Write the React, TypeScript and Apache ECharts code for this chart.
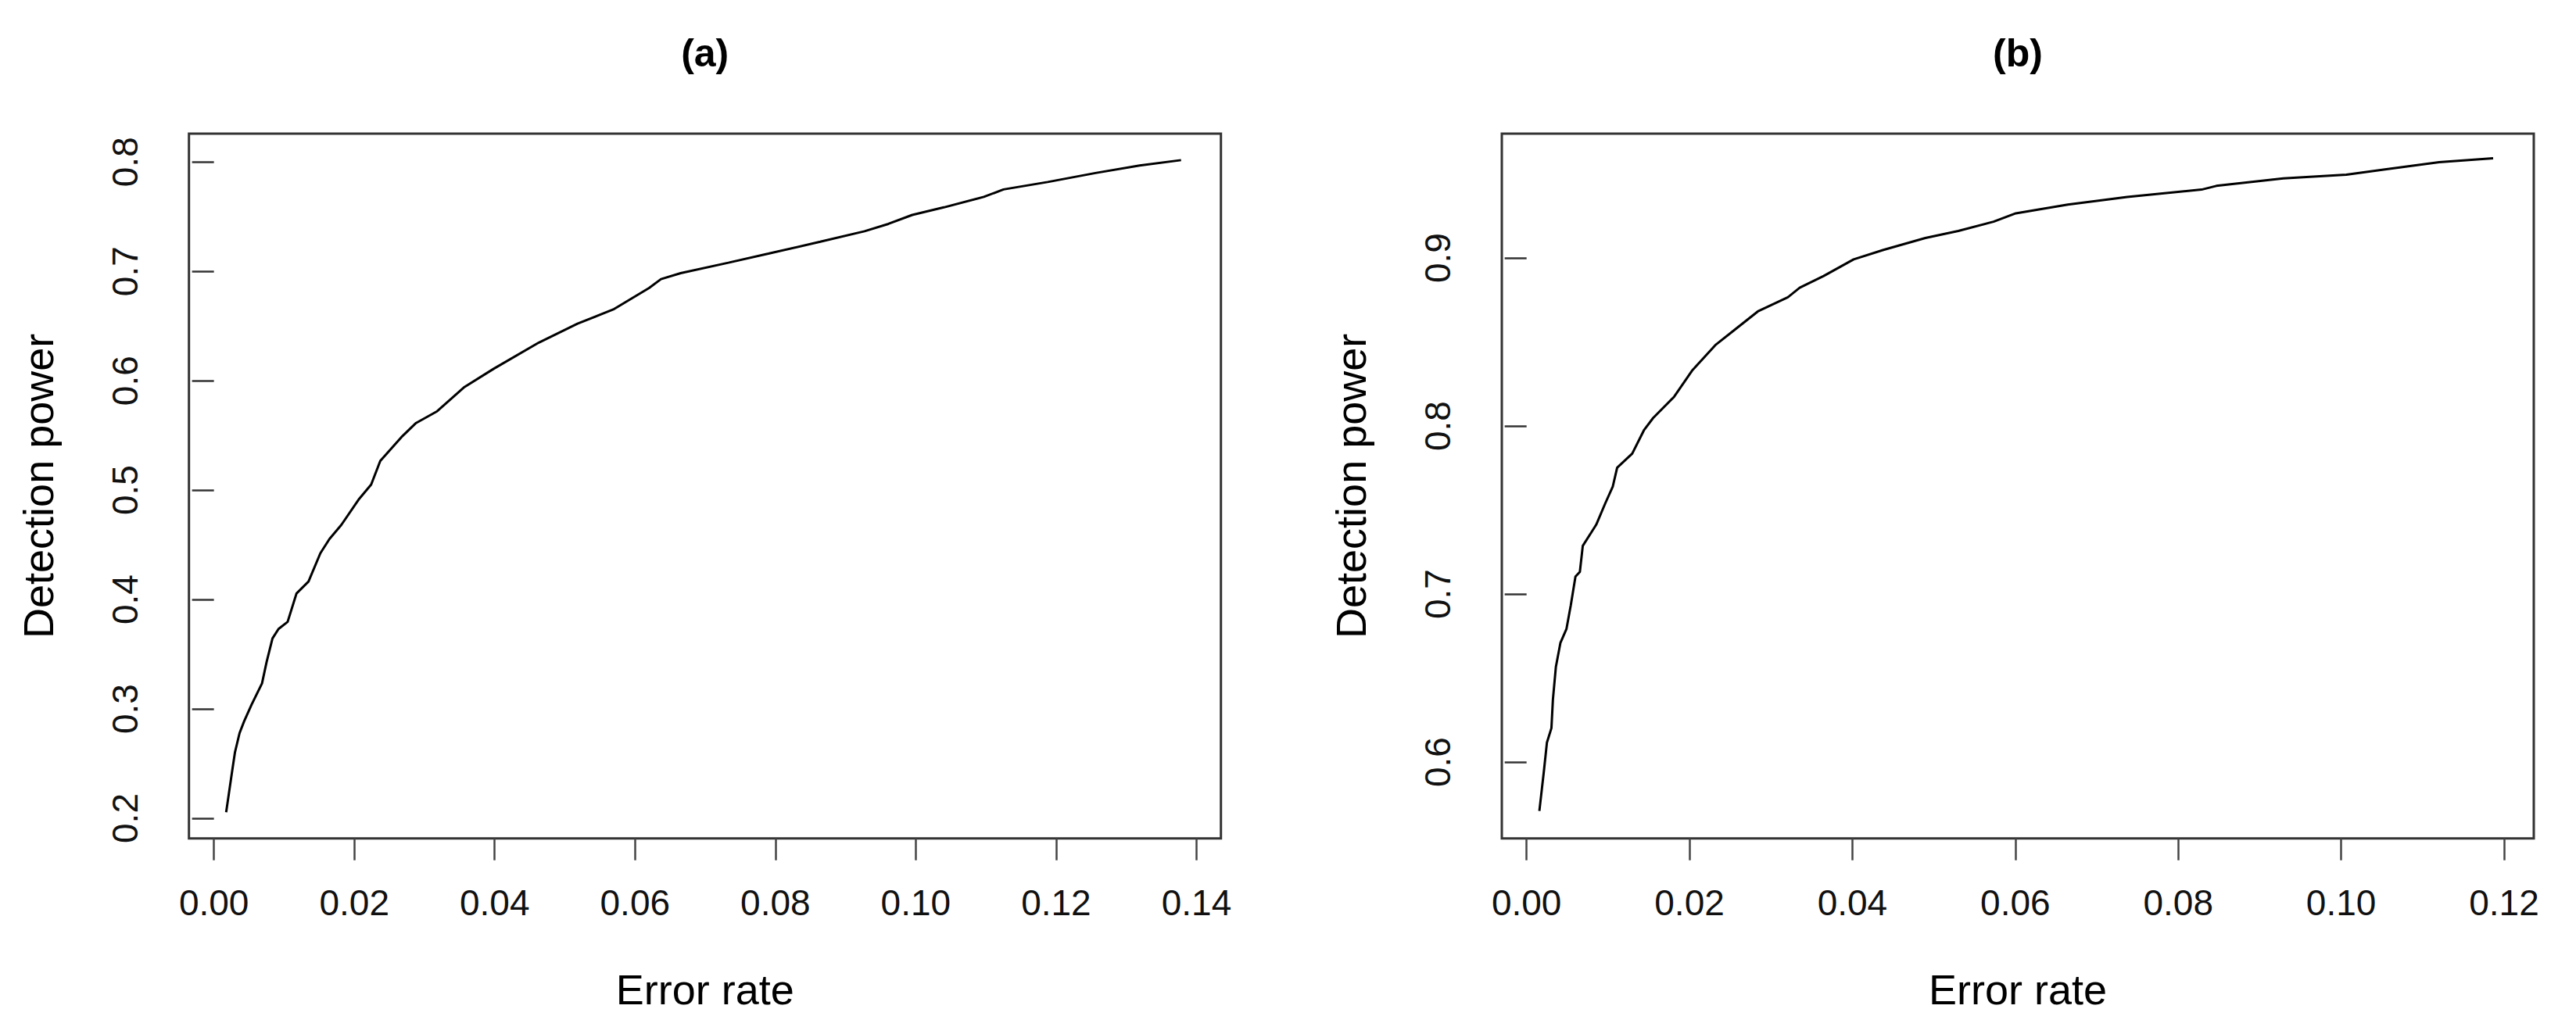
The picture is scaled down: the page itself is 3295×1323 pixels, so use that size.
import React, { useEffect, useRef } from "react";
import * as echarts from "echarts";

// Panel (a)
const errA = [0.00174, 0.0026, 0.003, 0.00365, 0.0043, 0.00536, 0.00685, 0.0075, 0.00834, 0.0092, 0.0105, 0.01176, 0.01347, 0.01517, 0.01645, 0.01816, 0.0207, 0.0224, 0.0237, 0.0267, 0.0288, 0.0318, 0.0356, 0.0399, 0.0463, 0.0518, 0.0569, 0.062, 0.0637, 0.0665, 0.0733, 0.079, 0.0864, 0.0927, 0.0961, 0.0995, 0.104, 0.1097, 0.1125, 0.1188, 0.1256, 0.1319, 0.1378];
const powA = [0.2055, 0.2434, 0.2605, 0.2779, 0.2887, 0.3039, 0.3233, 0.3428, 0.3644, 0.3731, 0.3796, 0.4055, 0.4164, 0.4424, 0.4553, 0.4683, 0.4921, 0.5051, 0.5267, 0.5484, 0.5614, 0.5721, 0.5938, 0.6111, 0.6349, 0.6522, 0.6652, 0.6848, 0.6929, 0.6984, 0.7079, 0.7162, 0.7271, 0.7367, 0.7434, 0.7516, 0.7585, 0.7681, 0.7749, 0.7817, 0.7899, 0.7968, 0.8017];

// Panel (b)
const errB = [0.00157, 0.00213, 0.0025, 0.00305, 0.00323, 0.0036, 0.00415, 0.0049, 0.00543, 0.006, 0.00654, 0.0069, 0.00855, 0.00966, 0.01058, 0.01112, 0.01297, 0.01443, 0.01554, 0.01811, 0.02031, 0.02325, 0.02545, 0.02839, 0.03207, 0.03353, 0.03647, 0.04015, 0.04381, 0.04896, 0.053, 0.05733, 0.06006, 0.06645, 0.07374, 0.08286, 0.08468, 0.0929, 0.10064, 0.10521, 0.11203, 0.11866];
const powB = [0.5709, 0.5948, 0.6117, 0.6202, 0.6371, 0.6568, 0.6709, 0.6793, 0.6934, 0.7104, 0.7132, 0.7287, 0.7413, 0.754, 0.7639, 0.7752, 0.7836, 0.7977, 0.8048, 0.8174, 0.8329, 0.8485, 0.8569, 0.8682, 0.8766, 0.8823, 0.8893, 0.8992, 0.9048, 0.9119, 0.9161, 0.9216, 0.9266, 0.9318, 0.9363, 0.9407, 0.9429, 0.9474, 0.9496, 0.9526, 0.957, 0.9593];

const xTicksA = [0, 0.02, 0.04, 0.06, 0.08, 0.1, 0.12, 0.14];
const yTicksA = [0.2, 0.3, 0.4, 0.5, 0.6, 0.7, 0.8];
const xTicksB = [0, 0.02, 0.04, 0.06, 0.08, 0.1, 0.12];
const yTicksB = [0.6, 0.7, 0.8, 0.9];

const titles = ["(a)", "(b)"];
const xName = "Error rate";
const yName = "Detection power";

const FONT = "Liberation Sans, Arial, Helvetica, sans-serif";

export default function App() {
  const ref = useRef<HTMLDivElement>(null);
  useEffect(() => {
    if (!ref.current) return;
    const chart = echarts.init(ref.current, undefined, { renderer: "svg" });
    const gridTop = 171;
    const gridH = 901.7;
    const gridW = 1320;
    const lefts = [241.7, 1921];

    const mkX = (idx: number, min: number, max: number, ticks: number[]) => ({
      type: "value",
      gridIndex: idx,
      min,
      max,
      name: xName,
      nameLocation: "middle",
      nameGap: 166,
      nameTextStyle: { fontFamily: FONT, fontSize: 54, color: "#000" },
      axisLine: { show: false },
      axisTick: {
        show: true,
        length: 28,
        customValues: ticks,
        lineStyle: { color: "#444", width: 2.5 },
      },
      axisLabel: {
        show: true,
        customValues: ticks,
        margin: 59,
        fontFamily: FONT,
        fontSize: 46,
        color: "#111",
        formatter: (v: number) => v.toFixed(2),
      },
      splitLine: { show: false },
    });
    const mkY = (idx: number, min: number, max: number, ticks: number[]) => ({
      type: "value",
      gridIndex: idx,
      min,
      max,
      name: yName,
      nameLocation: "middle",
      nameGap: 166,
      nameTextStyle: { fontFamily: FONT, fontSize: 54, color: "#000" },
      axisLine: { show: false },
      axisTick: {
        show: true,
        length: 28,
        customValues: ticks,
        lineStyle: { color: "#333", width: 2.5 },
      },
      axisLabel: {
        show: true,
        customValues: ticks,
        rotate: 90,
        margin: 59,
        fontFamily: FONT,
        fontSize: 46,
        color: "#111",
        formatter: (v: number) => v.toFixed(1),
      },
      splitLine: { show: false },
    });

    chart.setOption({
      animation: false,
      backgroundColor: "#fff",
      grid: lefts.map((l) => ({
        left: l,
        top: gridTop,
        width: gridW,
        height: gridH,
        show: true,
        borderColor: "#333",
        borderWidth: 3,
        backgroundColor: "transparent",
        containLabel: false,
        outerBoundsMode: "none",
      })),
      xAxis: [
        mkX(0, -0.00356, 0.14348, xTicksA),
        mkX(1, -0.00304, 0.12365, xTicksB),
      ],
      yAxis: [
        mkY(0, 0.18164, 0.8259, yTicksA),
        mkY(1, 0.5546, 0.974, yTicksB),
      ],
      series: [
        {
          type: "line",
          xAxisIndex: 0,
          yAxisIndex: 0,
          showSymbol: false,
          symbol: "none",
          lineStyle: { color: "#000", width: 3 },
          data: errA.map((x, i) => [x, powA[i]]),
        },
        {
          type: "line",
          xAxisIndex: 1,
          yAxisIndex: 1,
          showSymbol: false,
          symbol: "none",
          lineStyle: { color: "#000", width: 3 },
          data: errB.map((x, i) => [x, powB[i]]),
        },
      ],
      graphic: titles.map((t, i) => ({
        type: "text",
        x: lefts[i] + gridW / 2,
        y: 67.5,
        style: {
          text: t,
          font: `bold 50px ${FONT}`,
          fontFamily: FONT,
          fontWeight: "bold",
          fontSize: 50,
          fill: "#000",
          textAlign: "center",
          align: "center",
          textVerticalAlign: "middle",
          verticalAlign: "middle",
        },
      })),
    });
    return () => chart.dispose();
  }, []);
  return (
    <div
      ref={ref}
      style={{ position: "absolute", left: 0, top: 0, width: 3295, height: 1323 }}
    />
  );
}
